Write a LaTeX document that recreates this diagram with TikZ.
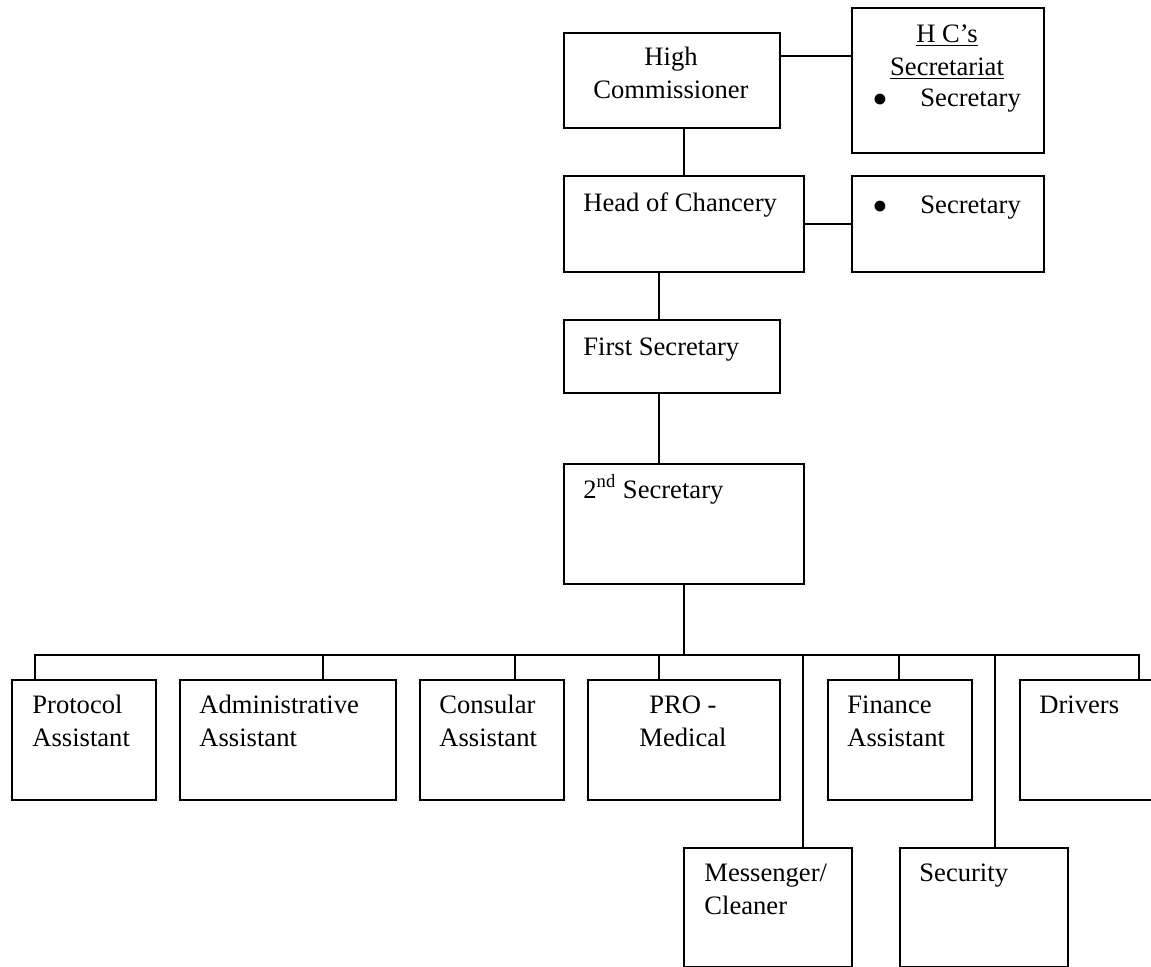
\documentclass[tikz,border=0pt]{standalone}
\usepackage{fontspec}
\setmainfont{Liberation Serif}
\newcommand{\boxstrut}{\rule{0pt}{12pt}}
\newcommand{\orgbullet}{\makebox[24pt][l]{\raisebox{-4.2pt}{\scalebox{1.7}{•}}}}

\begin{document}
\begin{tikzpicture}[ x=0.5pt, y=-0.5pt,
        orgbox/.style 2 args={ draw, line width=1pt, anchor=north west, inner sep=0pt, minimum width=#1*0.5pt, minimum height=#2*0.5pt },
        lbl/.style={ anchor=north west, inner sep=0pt, align=left, font=\fontsize{13.3}{16.4}\selectfont },
        clbl/.style={ lbl, anchor=north, align=center },
        link/.style={ line width=1pt, line cap=rect } ]
        \useasboundingbox ( 0, 0 ) rectangle ( 1151, 967 );

        % верх
        \node [ orgbox={216}{95} ] (hc) at ( 563, 32 ) {};
        \node [ clbl ] (hctext) at ( 671, 41 ) {\boxstrut High\\Commissioner};
        \node [ orgbox={192}{145} ] (hcsec) at ( 851, 7 ) {};
        \node [ clbl ] (hcsectitle) at ( 947, 18 ) {\boxstrut\underline{H C’s}\\\underline{Secretariat}};
        \node [ lbl ] (hcsectext) at ( 872, 82 ) {\boxstrut\orgbullet Secretary};

        \node [ orgbox={240}{96} ] (hoc) at ( 563, 175 ) {};
        \node [ lbl ] (hoctext) at ( 583, 187 ) {\boxstrut Head of Chancery};
        \node [ orgbox={192}{96} ] (hocsec) at ( 851, 175 ) {};
        \node [ lbl ] (hocsectext) at ( 872, 189 ) {\boxstrut\orgbullet Secretary};

        \node [ orgbox={216}{73} ] (first) at ( 563, 319 ) {};
        \node [ lbl ] (firsttext) at ( 583, 331 ) {\boxstrut First Secretary};
        \node [ orgbox={240}{120} ] (second) at ( 563, 463 ) {};
        \node [ lbl ] (secondtext) at ( 583, 474 ) {\boxstrut 2\textsuperscript{nd} Secretary};

        % связи сверху
        \draw [ link ] (hc.north east) ++ ( 0, 24 ) coordinate (c1) -- (c1 -| hcsec.west);
        \draw [ link ] (hoc.north) -- (hoc.north |- hc.south);
        \draw [ link ] (hoc.east) -- (hocsec.west);
        \draw [ link ] (hoc.south west) ++ ( 96, 0 ) coordinate (c2) -- (c2 |- first.north);
        \draw [ link ] (first.south west) ++ ( 96, 0 ) coordinate (c3) -- (c3 |- second.north);

        % нижний ряд
        \node [ orgbox={144}{120} ] (protocol) at ( 11, 679 ) {};
        \node [ lbl ] (protocoltext) at ( 32, 689 ) {\boxstrut Protocol\\Assistant};
        \node [ orgbox={216}{120} ] (admin) at ( 179, 679 ) {};
        \node [ lbl ] (admintext) at ( 199, 689 ) {\boxstrut Administrative\\Assistant};
        \node [ orgbox={144}{120} ] (consular) at ( 419, 679 ) {};
        \node [ lbl ] (consulartext) at ( 439, 689 ) {\boxstrut Consular\\Assistant};
        \node [ orgbox={192}{120} ] (pro) at ( 587, 679 ) {};
        \node [ clbl ] (protext) at ( 683, 689 ) {\boxstrut PRO -\\Medical};
        \node [ orgbox={144}{120} ] (finance) at ( 827, 679 ) {};
        \node [ lbl ] (financetext) at ( 847, 689 ) {\boxstrut Finance\\Assistant};
        \node [ orgbox={134}{120} ] (drivers) at ( 1019, 679 ) {};
        \node [ lbl ] (driverstext) at ( 1039, 689 ) {\boxstrut Drivers};
        \node [ orgbox={168}{119} ] (messenger) at ( 683, 847 ) {};
        \node [ lbl ] (messengertext) at ( 704, 857 ) {\boxstrut Messenger/\\Cleaner};
        \node [ orgbox={168}{119} ] (security) at ( 899, 847 ) {};
        \node [ lbl ] (securitytext) at ( 919, 857 ) {\boxstrut Security};

        % шина
        \path (protocol.north west) ++ ( 24, -24 ) coordinate (busl);
        \path (drivers.north west) ++ ( 120, -24 ) coordinate (busr);
        \draw [ link ] (busl) -- (busr);
        \draw [ link ] (second.south) -- (second.south |- busl);
        \foreach \n/\dx in { protocol/24, admin/144, consular/96, pro/72, finance/72, drivers/120, messenger/120, security/96 }
            \draw [ link ] (\n.north west) ++ ( \dx, 0 ) coordinate (t) -- (t |- busl);
    \end{tikzpicture}
\end{document}
